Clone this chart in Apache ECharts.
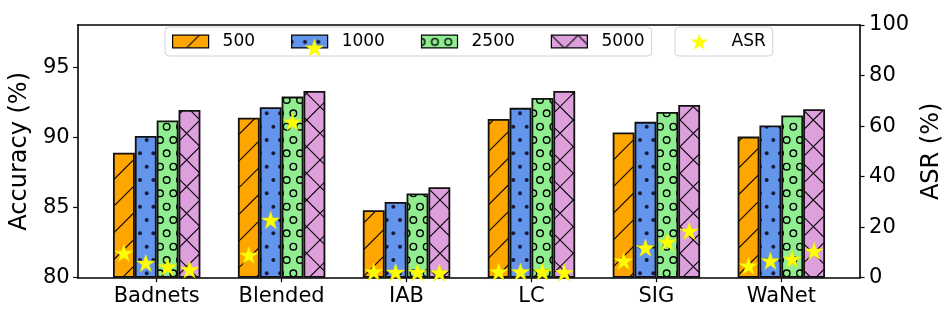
<!DOCTYPE html>
<html>
<head>
<meta charset="utf-8">
<script src="https://cdn.jsdelivr.net/npm/echarts@6/dist/echarts.min.js"></script>
<style>
html,body{margin:0;padding:0;background:#fff;}
#c{width:952px;height:317px;}
</style>
</head>
<body>
<div id="c"></div>
<script>
const categories = ['Badnets', 'Blended', 'IAB', 'LC', 'SIG', 'WaNet'];
const seriesNames = ['500', '1000', '2500', '5000'];
const acc500  = [88.9, 91.4, 84.8, 91.3, 90.35, 90.05];
const acc1000 = [90.1, 92.15, 85.4, 92.1, 91.1, 90.85];
const acc2500 = [91.2, 92.9, 86.0, 92.8, 91.8, 91.55];
const acc5000 = [91.95, 93.3, 86.45, 93.3, 92.3, 92.0];
const asr500  = [9.8, 9.0, 2.4, 2.4, 6.7, 4.75];
const asr1000 = [5.8, 22.8, 2.2, 2.4, 11.9, 6.7];
const asr2500 = [4.35, 61.7, 2.2, 2.4, 14.2, 7.4];
const asr5000 = [3.3, 91.0, 2.0, 2.1, 18.5, 10.6];
const accTicks = [80, 85, 90, 95];
const asrTicks = [0, 20, 40, 60, 80, 100];
const catTicks = [0, 1, 2, 3, 4, 5];

const FONT = 'DejaVu Sans';
const barSlot = 0.175; // bar width in category units (4 bars = 0.7 group)

function makeTile(bg, draw) {
  const c = document.createElement('canvas');
  c.width = 80; c.height = 80;
  const g = c.getContext('2d');
  g.fillStyle = bg; g.fillRect(0, 0, 80, 80);
  draw(g);
  return c;
}
const sp = 80 / 3;
function diag(g, dir) {
  g.strokeStyle = '#000'; g.lineWidth = 1.1;
  for (let k = -4; k <= 8; k++) {
    const c = k * sp;
    g.beginPath();
    if (dir > 0) { g.moveTo(0, c); g.lineTo(80, c - 80); }
    else { g.moveTo(0, c - 80); g.lineTo(80, c); }
    g.stroke();
  }
}
function hexGrid(g, fn) {
  const s = 80 / 6;
  for (let r = -1; r <= 7; r++) {
    for (let q = -1; q <= 7; q++) {
      fn(q * s + (r % 2 ? s / 2 : 0), r * s + s / 2);
    }
  }
}
const tiles = [
  makeTile('#ffa500', g => diag(g, 1)),
  makeTile('#6495ed', g => hexGrid(g, (x, y) => { g.fillStyle = '#1a1a3a'; g.beginPath(); g.arc(x, y, 2.0, 0, Math.PI * 2); g.fill(); })),
  makeTile('#90ee90', g => hexGrid(g, (x, y) => { g.strokeStyle = '#000'; g.lineWidth = 1.4; g.beginPath(); g.arc(x, y, 3.3, 0, Math.PI * 2); g.stroke(); })),
  makeTile('#dda0dd', g => { diag(g, 1); diag(g, -1); })
];

// 5-point star symbol path
function starPath() {
  const pts = [];
  for (let i = 0; i < 10; i++) {
    const r = i % 2 ? 0.381966 : 1;
    const a = -Math.PI / 2 + i * Math.PI / 5;
    pts.push((r * Math.cos(a)).toFixed(4) + ',' + (r * Math.sin(a)).toFixed(4));
  }
  return 'path://M' + pts.join('L') + 'Z';
}
const STAR = starPath();

const accSets = [acc500, acc1000, acc2500, acc5000];
const asrSets = [asr500, asr1000, asr2500, asr5000];

const barSeries = seriesNames.map((name, k) => ({
  name: name,
  type: 'bar',
  xAxisIndex: 0,
  yAxisIndex: 0,
  barWidth: (barSlot * 100) + '%',
  barGap: '0%',
  z: 2,
  itemStyle: {
    color: { image: tiles[k], repeat: 'repeat' },
    borderColor: '#111',
    borderWidth: 1.8
  },
  data: accSets[k].map((v, i) => [i, v])
}));

const starData = [];
asrSets.forEach((arr, k) => {
  arr.forEach((v, i) => starData.push([i + (k - 1.5) * barSlot, v]));
});

const scatter = {
  name: 'ASR',
  type: 'scatter',
  xAxisIndex: 0,
  yAxisIndex: 1,
  symbol: STAR,
  symbolKeepAspect: true,
  symbolSize: 18,
  z: 10,
  itemStyle: { color: '#ffff00', borderColor: '#eeee00', borderWidth: 0.5, opacity: 1 },
  data: starData
};

const legendText = { fontFamily: FONT, fontSize: 17, color: '#000', lineHeight: 17, padding: [0, 0, 0, 9] };
const asrLegendText = { fontFamily: FONT, fontSize: 17, color: '#000', lineHeight: 17, padding: [0, 0, 0, 18.5] };

const chart = echarts.init(document.getElementById('c'), null, { renderer: 'canvas' });
const axisLineStyle = { color: '#000', width: 1.6 };
chart.setOption({
  animation: false,
  textStyle: { fontFamily: FONT },
  grid: { left: 76, right: 86.3, top: 25, bottom: 39.3, containLabel: false },
  legend: [
    {
      data: seriesNames,
      left: 165, top: 27,
      orient: 'horizontal',
      padding: [6, 7, 6, 7],
      itemWidth: 36, itemHeight: 12.7,
      itemGap: 36,
      icon: 'rect',
      itemStyle: { borderColor: '#000', borderWidth: 1.2 },
      backgroundColor: 'rgba(255,255,255,0.8)',
      borderColor: '#d3d3d3', borderWidth: 1, borderRadius: 4,
      textStyle: legendText,
      selectedMode: false
    },
    {
      data: [{ name: 'ASR', icon: STAR, textStyle: asrLegendText }],
      left: 675, top: 27,
      padding: [6, 7, 6, 15.5],
      itemWidth: 17.5, itemHeight: 17.5,
      symbolKeepAspect: true,
      itemStyle: { borderWidth: 0 },
      backgroundColor: 'rgba(255,255,255,0.8)',
      borderColor: '#d3d3d3', borderWidth: 1, borderRadius: 4,
      textStyle: asrLegendText,
      selectedMode: false
    }
  ],
  xAxis: [
    {
      type: 'value', position: 'bottom',
      min: -0.633, max: 5.63,
      axisLine: { show: true, lineStyle: axisLineStyle },
      axisTick: { show: true, customValues: catTicks, length: 4.5, inside: false, lineStyle: { color: '#000', width: 1.2 } },
      axisLabel: { customValues: catTicks, formatter: v => categories[Math.round(v)], fontSize: 21, color: '#000', margin: 8, fontFamily: FONT },
      splitLine: { show: false }
    },
    {
      type: 'value', position: 'top',
      min: -0.633, max: 5.63,
      axisLine: { show: true, onZero: false, lineStyle: axisLineStyle },
      axisTick: { show: false },
      axisLabel: { show: false },
      splitLine: { show: false }
    }
  ],
  yAxis: [
    {
      type: 'value', position: 'left',
      min: 80, max: 98, startValue: 80,
      axisLine: { show: true, onZero: false, lineStyle: axisLineStyle },
      axisTick: { show: true, customValues: accTicks, length: 4.5, lineStyle: { color: '#000', width: 1.2 } },
      axisLabel: { customValues: accTicks, fontSize: 21, color: '#000', margin: 8, fontFamily: FONT },
      splitLine: { show: false },
      name: 'Accuracy (%)', nameLocation: 'middle', nameRotate: 90, nameGap: 35,
      nameTextStyle: { fontSize: 24, color: '#000', fontFamily: FONT }
    },
    {
      type: 'value', position: 'right',
      min: 0, max: 100, interval: 20,
      axisLine: { show: true, onZero: false, lineStyle: axisLineStyle },
      axisTick: { show: true, customValues: asrTicks, length: 4.5, lineStyle: { color: '#000', width: 1.2 } },
      axisLabel: { customValues: asrTicks, fontSize: 21, color: '#000', margin: 9, fontFamily: FONT },
      splitLine: { show: false },
      name: 'ASR (%)', nameLocation: 'middle', nameRotate: 90, nameGap: 54,
      nameTextStyle: { fontSize: 24, color: '#000', fontFamily: FONT }
    }
  ],
  series: barSeries.concat([scatter])
});
</script>
</body>
</html>
